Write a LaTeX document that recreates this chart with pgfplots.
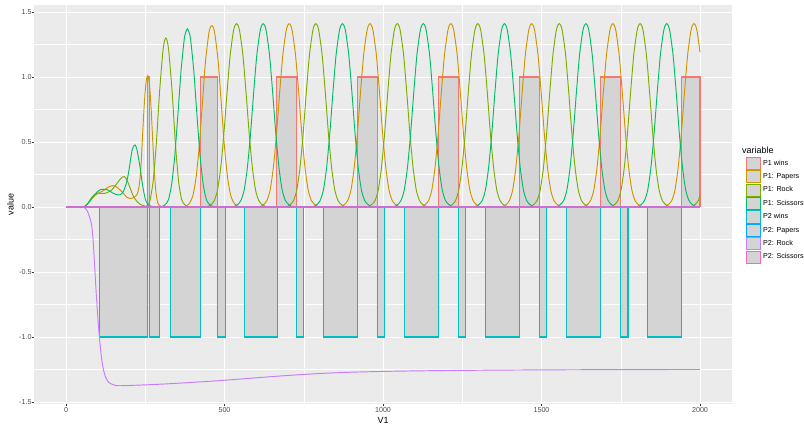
\documentclass[border=0pt]{standalone}
\usepackage{pgfplots}
\usepackage{pgfplotstable}
\pgfplotsset{compat=1.18}
\usepackage{fontspec}
\setmainfont{Liberation Sans}
\definecolor{panelbg}{HTML}{EBEBEB}
\definecolor{keygray}{HTML}{D4D4D4}
\definecolor{ticktext}{HTML}{4D4D4D}
\definecolor{tickcol}{HTML}{333333}
\definecolor{cpw}{HTML}{F8766D}
\definecolor{cpp}{HTML}{CD9600}
\definecolor{cpr}{HTML}{7CAE00}
\definecolor{cps}{HTML}{00BE67}
\definecolor{cqw}{HTML}{00BFC4}
\definecolor{cqp}{HTML}{00A9FF}
\definecolor{cqr}{HTML}{C77CFF}
\definecolor{cqs}{HTML}{FF61C3}
\definecolor{zeroline}{HTML}{CC6FCF}
\pgfplotstableread{
x y
0 0
256 0
256 1
263 1
263 0
424 0
424 1
479 1
479 0
665 0
665 1
728 1
728 0
920 0
920 1
982 1
982 0
1176 0
1176 1
1239 1
1239 0
1430 0
1430 1
1493 1
1493 0
1687 0
1687 1
1750 1
1750 0
1943 0
1943 1
2000 1
2000 0
}\pwins
\pgfplotstableread{
x y
0 0
105 0
105 -1
258 -1
258 0
263 0
263 -1
294 -1
294 0
330 0
330 -1
425 -1
425 0
479 0
479 -1
504 -1
504 0
562 0
562 -1
667 -1
667 0
728 0
728 -1
750 -1
750 0
813 0
813 -1
920 -1
920 0
982 0
982 -1
1006 -1
1006 0
1067 0
1067 -1
1176 -1
1176 0
1238 0
1238 -1
1261 -1
1261 0
1324 0
1324 -1
1430 -1
1430 0
1493 0
1493 -1
1516 -1
1516 0
1580 0
1580 -1
1687 -1
1687 0
1749 0
1749 -1
1773 -1
1773 0
1835 0
1835 -1
1943 -1
1943 0
2000 0
}\qwins
\begin{document}
\begin{tikzpicture}
\useasboundingbox (-34.3bp,-21.2bp) rectangle (769.7bp,403.8bp);
\begin{axis}[
  at={(0,0)}, anchor=south west, scale only axis,
  width=697.4bp, height=398.6bp,
  xmin=-100, xmax=2100, ymin=-1.514, ymax=1.552,
  axis background/.style={fill=panelbg},
  axis line style={draw=none},
  xtick={0,500,1000,1500,2000},
  xticklabels={0,500,1000,1500,2000},
  ytick={-1.5,-1,-0.5,0,0.5,1,1.5},
  yticklabels={-1.5,-1.0,-0.5,0.0,0.5,1.0,1.5},
  minor xtick={250,750,1250,1750},
  minor ytick={-1.25,-0.75,-0.25,0.25,0.75,1.25},
  grid=both,
  major grid style={white, line width=0.9bp},
  minor grid style={white, line width=0.45bp},
  tick align=outside, tick pos=left,
  major tick length=2.3bp, minor tick length=0pt,
  tick style={tickcol, line width=0.9bp},
  tick label style={font=\fontsize{7.2}{8}\selectfont, text=ticktext},
  xticklabel style={anchor=north, inner sep=0pt, yshift=-1.6bp},
  yticklabel style={anchor=east, inner sep=0pt, xshift=-0.3bp},
  xlabel={V1}, ylabel={value},
  every axis x label/.style={at={(axis description cs:0.5,-0.0406)}, anchor=center, font=\fontsize{9}{10}\selectfont},
  every axis y label/.style={at={(axis description cs:-0.0344,0.5)}, anchor=center, rotate=90, font=\fontsize{9}{10}\selectfont},
  legend image code/.code={\draw[#1] (0bp,-6.1bp) rectangle (13.4bp,6.1bp);},
  legend cell align=left,
  legend style={at={(axis description cs:1.0205,0.6202)}, anchor=north west, draw=none, fill=none, inner sep=0pt,
    font=\fontsize{7.2}{8}\selectfont, row sep=0.3bp,
    nodes={inner xsep=2.6bp, inner ysep=0pt}},
  every axis plot/.append style={line width=0.95bp},
]
\addlegendimage{draw=cpw, fill=keygray, line width=0.9bp}
\addlegendentry{P1 wins}
\addlegendimage{draw=cpp, fill=keygray, line width=0.9bp}
\addlegendentry{P1: Papers}
\addlegendimage{draw=cpr, fill=keygray, line width=0.9bp}
\addlegendentry{P1: Rock}
\addlegendimage{draw=cps, fill=keygray, line width=0.9bp}
\addlegendentry{P1: Scissors}
\addlegendimage{draw=cqw, fill=keygray, line width=0.9bp}
\addlegendentry{P2 wins}
\addlegendimage{draw=cqp, fill=keygray, line width=0.9bp}
\addlegendentry{P2: Papers}
\addlegendimage{draw=cqr, fill=keygray, line width=0.9bp}
\addlegendentry{P2: Rock}
\addlegendimage{draw=cqs, fill=keygray, line width=0.9bp}
\addlegendentry{P2: Scissors}

% P1 wins
\addplot[forget plot, draw=none, fill=keygray] table {\pwins} \closedcycle;
\addplot[forget plot, draw=cpw, line width=1.1bp] table {\pwins};

% P1: Papers
\addplot[forget plot, draw=cpp, smooth, tension=0.4] coordinates {
(0,0) (50,0) (60,0.005) (70,0.03) (80,0.06) (92,0.09) (105,0.11) (118,0.126) (135,0.155) (149,0.164) (162,0.15) (176,0.118) (190,0.08) (200,0.066) (210,0.068) (218,0.08) (225,0.1) (230,0.15) (234,0.23) (238,0.38) (243,0.62) (248,0.83) (253,0.97) (258,1.01) (263,0.95) (268,0.78) (273,0.54) (278,0.30) (283,0.13) (288,0.045) (293,0.015) (300,0.003) (310,0)
(370,0) (380,0.008) (390,0.03) (400,0.085) (410,0.22) (420,0.46) (430,0.79) (440,1.12) (450,1.325) (455,1.38) (460,1.395) (465,1.38) (470,1.325) (480,1.12) (490,0.79) (500,0.46) (510,0.22) (520,0.085) (530,0.03) (540,0.008) (550,0)
(604,0) (614,0.005) (624,0.02) (634,0.05) (644,0.13) (654,0.30) (664,0.56) (674,0.88) (684,1.17) (694,1.35) (699,1.395) (704,1.41) (709,1.395) (714,1.35) (724,1.17) (734,0.88) (744,0.56) (754,0.30) (764,0.13) (774,0.05) (784,0.02) (794,0.005) (804,0)
(859,0) (869,0.005) (879,0.02) (889,0.05) (899,0.13) (909,0.30) (919,0.56) (929,0.88) (939,1.17) (949,1.35) (954,1.395) (959,1.41) (964,1.395) (969,1.35) (979,1.17) (989,0.88) (999,0.56) (1009,0.30) (1019,0.13) (1029,0.05) (1039,0.02) (1049,0.005) (1059,0)
(1114,0) (1124,0.005) (1134,0.02) (1144,0.05) (1154,0.13) (1164,0.30) (1174,0.56) (1184,0.88) (1194,1.17) (1204,1.35) (1209,1.395) (1214,1.41) (1219,1.395) (1224,1.35) (1234,1.17) (1244,0.88) (1254,0.56) (1264,0.30) (1274,0.13) (1284,0.05) (1294,0.02) (1304,0.005) (1314,0)
(1369,0) (1379,0.005) (1389,0.02) (1399,0.05) (1409,0.13) (1419,0.30) (1429,0.56) (1439,0.88) (1449,1.17) (1459,1.35) (1464,1.395) (1469,1.41) (1474,1.395) (1479,1.35) (1489,1.17) (1499,0.88) (1509,0.56) (1519,0.30) (1529,0.13) (1539,0.05) (1549,0.02) (1559,0.005) (1569,0)
(1625,0) (1635,0.005) (1645,0.02) (1655,0.05) (1665,0.13) (1675,0.30) (1685,0.56) (1695,0.88) (1705,1.17) (1715,1.35) (1720,1.395) (1725,1.41) (1730,1.395) (1735,1.35) (1745,1.17) (1755,0.88) (1765,0.56) (1775,0.30) (1785,0.13) (1795,0.05) (1805,0.02) (1815,0.005) (1825,0)
(1881,0) (1891,0.005) (1901,0.02) (1911,0.05) (1921,0.13) (1931,0.30) (1941,0.56) (1951,0.88) (1961,1.17) (1971,1.35) (1976,1.395) (1981,1.41) (1986,1.395) (1991,1.35) (2000,1.19)
};

% P1: Rock
\addplot[forget plot, draw=cpr, smooth, tension=0.4] coordinates {
(0,0) (50,0) (60,0.005) (70,0.03) (80,0.07) (92,0.1) (105,0.105) (123,0.105) (144,0.13) (165,0.195) (175,0.225) (184,0.233) (192,0.21) (200,0.16) (213,0.08) (225,0.04) (234,0.02) (250,0.006) (258,0.012)
(265,0.05) (275,0.2) (285,0.49) (295,0.88) (305,1.18) (310,1.27) (315,1.30) (320,1.27) (325,1.18) (335,0.88) (345,0.49) (355,0.2) (365,0.056) (375,0.016) (385,0.003) (395,0)
(438,0) (448,0.005) (458,0.02) (468,0.05) (478,0.13) (488,0.30) (498,0.56) (508,0.88) (518,1.17) (528,1.35) (533,1.395) (538,1.41) (543,1.395) (548,1.35) (558,1.17) (568,0.88) (578,0.56) (588,0.30) (598,0.13) (608,0.05) (618,0.02) (628,0.005) (638,0)
(688,0) (698,0.005) (708,0.02) (718,0.05) (728,0.13) (738,0.30) (748,0.56) (758,0.88) (768,1.17) (778,1.35) (783,1.395) (788,1.41) (793,1.395) (798,1.35) (808,1.17) (818,0.88) (828,0.56) (838,0.30) (848,0.13) (858,0.05) (868,0.02) (878,0.005) (888,0)
(945,0) (955,0.005) (965,0.02) (975,0.05) (985,0.13) (995,0.30) (1005,0.56) (1015,0.88) (1025,1.17) (1035,1.35) (1040,1.395) (1045,1.41) (1050,1.395) (1055,1.35) (1065,1.17) (1075,0.88) (1085,0.56) (1095,0.30) (1105,0.13) (1115,0.05) (1125,0.02) (1135,0.005) (1145,0)
(1199,0) (1209,0.005) (1219,0.02) (1229,0.05) (1239,0.13) (1249,0.30) (1259,0.56) (1269,0.88) (1279,1.17) (1289,1.35) (1294,1.395) (1299,1.41) (1304,1.395) (1309,1.35) (1319,1.17) (1329,0.88) (1339,0.56) (1349,0.30) (1359,0.13) (1369,0.05) (1379,0.02) (1389,0.005) (1399,0)
(1456,0) (1466,0.005) (1476,0.02) (1486,0.05) (1496,0.13) (1506,0.30) (1516,0.56) (1526,0.88) (1536,1.17) (1546,1.35) (1551,1.395) (1556,1.41) (1561,1.395) (1566,1.35) (1576,1.17) (1586,0.88) (1596,0.56) (1606,0.30) (1616,0.13) (1626,0.05) (1636,0.02) (1646,0.005) (1656,0)
(1711,0) (1721,0.005) (1731,0.02) (1741,0.05) (1751,0.13) (1761,0.30) (1771,0.56) (1781,0.88) (1791,1.17) (1801,1.35) (1806,1.395) (1811,1.41) (1816,1.395) (1821,1.35) (1831,1.17) (1841,0.88) (1851,0.56) (1861,0.30) (1871,0.13) (1881,0.05) (1891,0.02) (1901,0.005) (1911,0)
(1965,0) (1975,0.005) (1985,0.02) (1995,0.05) (2000,0.09)
};

% P1: Scissors
\addplot[forget plot, draw=cps, smooth, tension=0.4] coordinates {
(0,0) (50,0) (60,0.005) (70,0.03) (86,0.08) (100,0.12) (112,0.136) (122,0.135) (133,0.13) (149,0.105) (165,0.092) (175,0.1) (181,0.118) (190,0.18) (197,0.26) (204,0.37) (209,0.44) (214,0.47) (218,0.477) (223,0.45) (228,0.387) (234,0.3) (239,0.21) (245,0.12) (251,0.054) (258,0.02) (265,0.008) (280,0.002) (295,0)
(303,0.004) (313,0.018) (323,0.055) (333,0.17) (343,0.39) (353,0.71) (363,1.05) (373,1.29) (378,1.345) (383,1.37) (388,1.345) (393,1.29) (403,1.05) (413,0.71) (423,0.39) (433,0.17) (443,0.055) (453,0.018) (463,0.004) (475,0)
(522,0) (532,0.005) (542,0.02) (552,0.05) (562,0.13) (572,0.30) (582,0.56) (592,0.88) (602,1.17) (612,1.35) (617,1.395) (622,1.41) (627,1.395) (632,1.35) (642,1.17) (652,0.88) (662,0.56) (672,0.30) (682,0.13) (692,0.05) (702,0.02) (712,0.005) (722,0)
(772,0) (782,0.005) (792,0.02) (802,0.05) (812,0.13) (822,0.30) (832,0.56) (842,0.88) (852,1.17) (862,1.35) (867,1.395) (872,1.41) (877,1.395) (882,1.35) (892,1.17) (902,0.88) (912,0.56) (922,0.30) (932,0.13) (942,0.05) (952,0.02) (962,0.005) (972,0)
(1027,0) (1037,0.005) (1047,0.02) (1057,0.05) (1067,0.13) (1077,0.30) (1087,0.56) (1097,0.88) (1107,1.17) (1117,1.35) (1122,1.395) (1127,1.41) (1132,1.395) (1137,1.35) (1147,1.17) (1157,0.88) (1167,0.56) (1177,0.30) (1187,0.13) (1197,0.05) (1207,0.02) (1217,0.005) (1227,0)
(1283,0) (1293,0.005) (1303,0.02) (1313,0.05) (1323,0.13) (1333,0.30) (1343,0.56) (1353,0.88) (1363,1.17) (1373,1.35) (1378,1.395) (1383,1.41) (1388,1.395) (1393,1.35) (1403,1.17) (1413,0.88) (1423,0.56) (1433,0.30) (1443,0.13) (1453,0.05) (1463,0.02) (1473,0.005) (1483,0)
(1540,0) (1550,0.005) (1560,0.02) (1570,0.05) (1580,0.13) (1590,0.30) (1600,0.56) (1610,0.88) (1620,1.17) (1630,1.35) (1635,1.395) (1640,1.41) (1645,1.395) (1650,1.35) (1660,1.17) (1670,0.88) (1680,0.56) (1690,0.30) (1700,0.13) (1710,0.05) (1720,0.02) (1730,0.005) (1740,0)
(1795,0) (1805,0.005) (1815,0.02) (1825,0.05) (1835,0.13) (1845,0.30) (1855,0.56) (1865,0.88) (1875,1.17) (1885,1.35) (1890,1.395) (1895,1.41) (1900,1.395) (1905,1.35) (1915,1.17) (1925,0.88) (1935,0.56) (1945,0.30) (1955,0.13) (1965,0.05) (1975,0.02) (1985,0.005) (1995,0) (2000,0)
};

% P2 wins
\addplot[forget plot, draw=none, fill=keygray] table {\qwins} \closedcycle;
\addplot[forget plot, draw=cqw, line width=1.1bp] table {\qwins};

% P2: Papers
\addplot[forget plot, draw=cqp, line width=1.25bp] coordinates {(0,0) (2000,0)};

% P2: Rock
\addplot[forget plot, draw=cqr, smooth, tension=0.4] coordinates {
(0,0) (50,0) (56,-0.003) (62,-0.012) (67,-0.03) (72,-0.06) (76,-0.09) (81,-0.14) (86,-0.27) (91,-0.48) (96,-0.69) (101,-0.87) (106,-1.02) (112,-1.16) (118,-1.25) (125,-1.31) (135,-1.35) (150,-1.368) (165,-1.375) (200,-1.373) (300,-1.363) (400,-1.349) (500,-1.333) (600,-1.314) (700,-1.296) (800,-1.281) (900,-1.271) (1000,-1.265) (1100,-1.261) (1200,-1.258) (1300,-1.256) (1500,-1.253) (1750,-1.251) (2000,-1.25)
};

% P2: Scissors
\addplot[forget plot, draw=zeroline, line width=1.25bp] coordinates {(0,0) (2000,0)};
\end{axis}
\node[anchor=west, inner sep=0pt, font=\fontsize{9}{10}\selectfont] at (707.7bp,253.8bp) {variable};
\end{tikzpicture}
\end{document}
